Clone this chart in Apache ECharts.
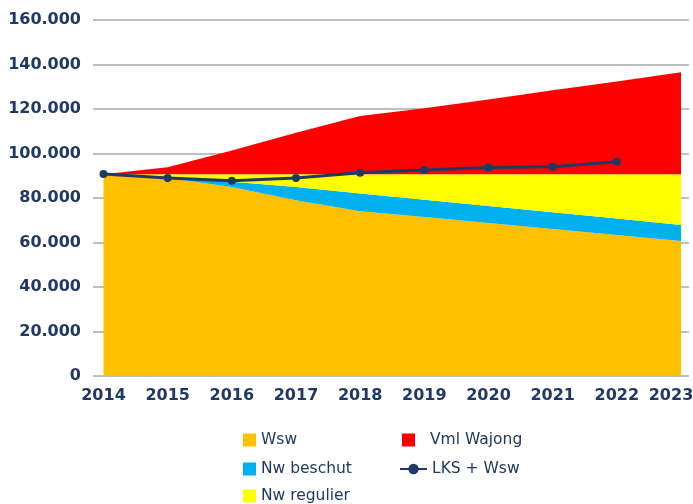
<!DOCTYPE html>
<html>
<head>
<meta charset="utf-8">
<script src="https://cdn.jsdelivr.net/npm/echarts@6/dist/echarts.min.js"></script>
<style>
  html, body { margin: 0; padding: 0; background: #fff; }
  #chart { width: 693px; height: 504px; }
</style>
</head>
<body>
<div id="chart"></div>
<script>
"use strict";

// jaren op de x-as
const years = ["2014", "2015", "2016", "2017", "2018", "2019", "2020", "2021", "2022", "2023"];

// gestapelde vlakken (aantallen per jaar)
const wsw        = [90500, 89000, 85000, 79000, 74000, 71500, 68800, 66100, 63400, 60700];
const nwBeschut  = [0, 200, 2300, 6000, 8000, 7700, 7600, 7500, 7400, 7200];
const nwRegulier = [200, 1500, 3400, 5700, 8700, 11500, 14300, 17100, 19900, 22800];
const vmlWajong  = [0, 3100, 10600, 18600, 26100, 29600, 33600, 37700, 41700, 45800];

// lijn LKS + Wsw (t/m 2022)
const lksWsw = [90800, 89000, 87800, 89000, 91400, 92600, 93700, 94000, 96300];

const NAVY = "#1F3864";
const FONT = "DejaVu Sans";

function fmtNL(v) {
  return String(v).replace(/\B(?=(\d{3})+(?!\d))/g, ".");
}

function areaSeries(name, data, color) {
  return {
    name, type: "line", data,
    xAxisIndex: 1, yAxisIndex: 1,
    stack: "totaal",
    symbol: "none",
    lineStyle: { width: 0 },
    areaStyle: { color, opacity: 1 },
    itemStyle: { color },
    z: 2
  };
}

const legendText = { color: NAVY, fontFamily: FONT, fontSize: 15.5 };

const chart = echarts.init(document.getElementById("chart"), null, { renderer: "canvas" });

const option = {
  animation: false,
  backgroundColor: "#fff",
  grid: [
    // raster + y-labels
    { left: 93, right: 4, top: 20, bottom: 128, outerBoundsMode: "none" },
    // data
    { left: 103.5, right: 12, top: 20, bottom: 128, outerBoundsMode: "none" }
  ],
  xAxis: [
    { gridIndex: 0, type: "value", min: 0, max: 1, show: false },
    {
      gridIndex: 1, type: "category", data: years, boundaryGap: false,
      axisLine: { show: false }, axisTick: { show: false },
      axisLabel: {
        interval: 0,
        color: NAVY, fontFamily: FONT, fontWeight: "bold", fontSize: 16, margin: 12,
        // laatste jaar iets naar links, zoals in het origineel
        formatter: (v, i) => i === years.length - 1 ? "{last|" + v + "}" : v,
        rich: { last: { color: NAVY, fontFamily: FONT, fontWeight: "bold", fontSize: 16, padding: [0, 20, 0, 0] } }
      }
    }
  ],
  yAxis: [
    {
      gridIndex: 0, type: "value", min: 0, max: 160000, interval: 20000,
      axisLine: { show: false }, axisTick: { show: false },
      axisLabel: { color: NAVY, fontFamily: FONT, fontWeight: "bold", fontSize: 16, margin: 12, formatter: fmtNL },
      splitLine: { lineStyle: { color: "#BFBFBF", width: 2 } }
    },
    {
      gridIndex: 1, type: "value", min: 0, max: 160000, interval: 20000,
      show: false, splitLine: { show: false }
    }
  ],
  legend: [
    { data: ["Wsw"], left: 243, top: 432, padding: 0, icon: "rect", itemWidth: 13, itemHeight: 13, textStyle: legendText },
    { data: ["Nw beschut"], left: 243, top: 461, padding: 0, icon: "rect", itemWidth: 13, itemHeight: 13, textStyle: legendText },
    { data: ["Nw regulier"], left: 243, top: 488, padding: 0, icon: "rect", itemWidth: 13, itemHeight: 13, textStyle: legendText },
    {
      data: ["Vml Wajong"], left: 402, top: 432, padding: 0, icon: "rect",
      itemWidth: 13, itemHeight: 13,
      textStyle: Object.assign({}, legendText, { padding: [0, 0, 0, 10] })
    },
    { data: ["LKS + Wsw"], left: 399, top: 461, padding: 0, itemWidth: 27, itemHeight: 13, textStyle: legendText }
  ],
  series: [
    areaSeries("Wsw", wsw, "#FFC000"),
    areaSeries("Nw beschut", nwBeschut, "#00B0F0"),
    areaSeries("Nw regulier", nwRegulier, "#FFFF00"),
    areaSeries("Vml Wajong", vmlWajong, "#FF0000"),
    {
      name: "LKS + Wsw", type: "line", data: lksWsw,
      xAxisIndex: 1, yAxisIndex: 1,
      symbol: "circle", symbolSize: 8,
      lineStyle: { color: NAVY, width: 3 },
      itemStyle: { color: NAVY },
      z: 5
    }
  ]
};

chart.setOption(option);
</script>
</body>
</html>
